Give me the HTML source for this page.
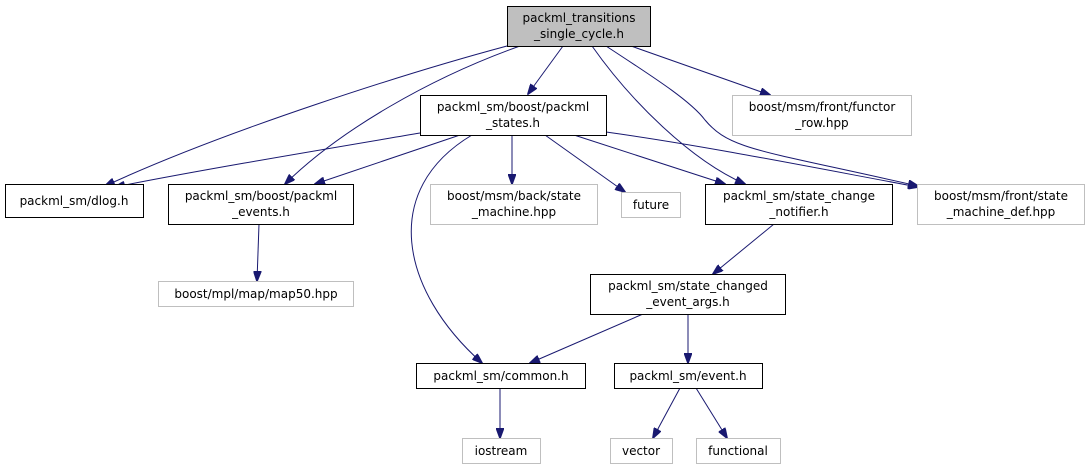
<!DOCTYPE html>
<html><head><meta charset="utf-8"><style>
html,body{margin:0;padding:0;background:#fff;}
svg{display:block;}
text{font-family:"DejaVu Sans","Liberation Sans",sans-serif;font-size:12px;fill:#000;text-anchor:middle;}
.b{fill:#fff;stroke:#000;stroke-width:1;}
.g{fill:#fff;stroke:#bfbfbf;stroke-width:1;}
.e{fill:none;stroke:#191970;stroke-width:1;marker-end:url(#a);}
</style></head><body>
<svg width="1089" height="469" viewBox="0 0 1089 469" xmlns="http://www.w3.org/2000/svg">
<defs><marker id="a" markerWidth="11" markerHeight="8" refX="10" refY="4" orient="auto" markerUnits="userSpaceOnUse"><path d="M0,0 L11,4 L0,8 z" fill="#191970" stroke="#191970"/></marker></defs>
<!-- edges -->
<path class="e" d="M507,46 C410,72 226,130 105,186"/>
<path class="e" d="M520,46 C430,78 340,130 285,184"/>
<path class="e" d="M563,46 L528,94"/>
<path class="e" d="M592,46 C630,100 690,160 745,184"/>
<path class="e" d="M606,46 C650,75 690,100 705,120 C730,150 760,150 918,186"/>
<path class="e" d="M631,46 L770,95"/>
<path class="e" d="M420,133 C320,150 200,170 115,187"/>
<path class="e" d="M460,135 L315,184"/>
<path class="e" d="M472,135 C380,190 400,290 482,363"/>
<path class="e" d="M512,135 L512,184"/>
<path class="e" d="M545,135 L625,192"/>
<path class="e" d="M574,135 L725,184"/>
<path class="e" d="M606,132 C700,145 800,165 918,187"/>
<path class="e" d="M259,224 L257,281"/>
<path class="e" d="M774,224 L713,274"/>
<path class="e" d="M643,314 L530,363"/>
<path class="e" d="M688,314 L688,363"/>
<path class="e" d="M500,388 L500,438"/>
<path class="e" d="M680,388 L653,438"/>
<path class="e" d="M696,388 L727,438"/>
<!-- nodes -->
<rect x="507.5" y="6.5" width="143" height="40" fill="#bfbfbf" stroke="#000"/>
<text x="579" y="22">packml_transitions</text><text x="579" y="38">_single_cycle.h</text>
<rect class="b" x="420.5" y="95.5" width="186" height="40"/>
<text x="513" y="111">packml_sm/boost/packml</text><text x="513" y="127">_states.h</text>
<rect class="g" x="732.5" y="95.5" width="179" height="40"/>
<text x="822" y="111">boost/msm/front/functor</text><text x="822" y="127">_row.hpp</text>
<rect class="b" x="5.5" y="184.5" width="138" height="33"/>
<text x="74" y="205">packml_sm/dlog.h</text>
<rect class="b" x="168.5" y="184.5" width="185" height="40"/>
<text x="261" y="200">packml_sm/boost/packml</text><text x="261" y="216">_events.h</text>
<rect class="g" x="430.5" y="184.5" width="167" height="40"/>
<text x="514" y="200">boost/msm/back/state</text><text x="514" y="216">_machine.hpp</text>
<rect class="g" x="621.5" y="192.5" width="59" height="25"/>
<text x="651" y="209">future</text>
<rect class="b" x="705.5" y="184.5" width="187" height="40"/>
<text x="799" y="200">packml_sm/state_change</text><text x="799" y="216">_notifier.h</text>
<rect class="g" x="917.5" y="184.5" width="167" height="40"/>
<text x="1001" y="200">boost/msm/front/state</text><text x="1001" y="216">_machine_def.hpp</text>
<rect class="g" x="158.5" y="281.5" width="195" height="25"/>
<text x="256" y="298">boost/mpl/map/map50.hpp</text>
<rect class="b" x="590.5" y="274.5" width="195" height="40"/>
<text x="688" y="290">packml_sm/state_changed</text><text x="688" y="306">_event_args.h</text>
<rect class="b" x="416.5" y="363.5" width="169" height="25"/>
<text x="501" y="380">packml_sm/common.h</text>
<rect class="b" x="614.5" y="363.5" width="148" height="25"/>
<text x="688" y="380">packml_sm/event.h</text>
<rect class="g" x="462.5" y="438.5" width="78" height="25"/>
<text x="501" y="455">iostream</text>
<rect class="g" x="610.5" y="438.5" width="62" height="25"/>
<text x="641" y="455">vector</text>
<rect class="g" x="696.5" y="438.5" width="84" height="25"/>
<text x="738" y="455">functional</text>
</svg>
</body></html>
